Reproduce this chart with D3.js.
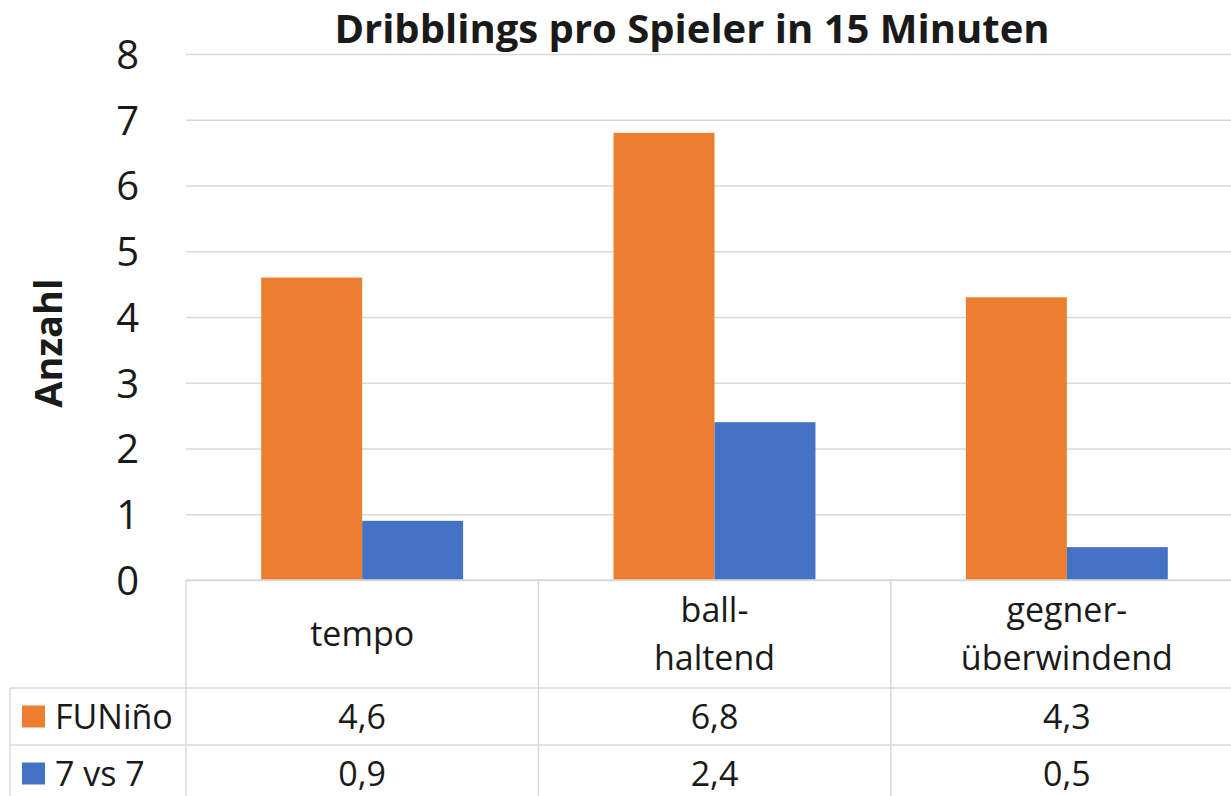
<!DOCTYPE html>
<head>
  <meta charset="utf-8">
  <script src="https://d3js.org/d3.v7.min.js"></script>
  <style>
    body { margin:0; background:#fff; }
    text { font-family: "Open Sans", sans-serif; fill: #1a1a1a; }
    .title { font-weight: bold; font-size: 40px; }
    .ylabel { font-weight: bold; font-size: 38px; }
    .y.axis text { font-size: 40px; }
    .y.axis line { stroke: #d9d9d9; stroke-width: 1.5; }
    .y.axis .domain { display: none; }
    .grid-line { stroke: #d9d9d9; stroke-width: 1.5; }
    .cell { font-size: 34px; }
  </style>
</head>

<body>
  <script>
    // data
    var categories = [["tempo"], ["ball-", "haltend"], ["gegner-", "überwindend"]];
    var seriesNames = ["FUNiño", "7 vs 7"];
    var funino = [4.6, 6.8, 4.3];
    var siebenVsSieben = [0.9, 2.4, 0.5];
    var yTicks = [0, 1, 2, 3, 4, 5, 6, 7, 8];
    var colours = ["#ed7d31", "#4472c4"];

    var W = 1231, H = 796;
    var plot = {left: 186, right: 1243, top: 54, bottom: 580};
    var tableLeft = 10;
    var rowY = [580, 688, 745, 802];   // header, FUNiño, 7 vs 7, bottom

    var svg = d3.select("body").append("svg")
        .attr("width", W)
        .attr("height", H);

    var catKeys = categories.map(function(c) { return c.join(""); });
    var values = [funino, siebenVsSieben];

    var x0 = d3.scaleBand()
        .domain(catKeys)
        .range([plot.left, plot.right])
        .padding(0);

    var x1 = d3.scaleBand()
        .domain(seriesNames)
        .range([0, x0.bandwidth()])
        .paddingInner(0)
        .paddingOuter(0.745);

    var y = d3.scaleLinear()
        .domain([0, 8])
        .range([plot.bottom, plot.top]);

    var fmt = d3.formatLocale({decimal: ",", thousands: ".", grouping: [3], currency: ["", "€"]}).format(".1f");

    // gridlines + tick labels
    var yAxis = d3.axisLeft(y)
        .tickValues(yTicks)
        .tickSize(-(W - plot.left))
        .tickPadding(47)
        .tickFormat(d3.format("d"));

    svg.append("g")
        .attr("class", "y axis")
        .attr("transform", "translate(" + plot.left + ",0)")
        .call(yAxis)
        .selectAll("text")
          .attr("dy", "0.36em");

    // bars
    var groups = svg.append("g").selectAll("g")
        .data(catKeys)
      .enter().append("g")
        .attr("transform", function(d) { return "translate(" + x0(d) + ",0)"; });

    groups.selectAll("rect")
        .data(function(d, i) {
          return seriesNames.map(function(s, j) { return {series: s, value: values[j][i], idx: j}; });
        })
      .enter().append("rect")
        .attr("x", function(d) { return x1(d.series); })
        .attr("width", x1.bandwidth())
        .attr("y", function(d) { return y(d.value); })
        .attr("height", function(d) { return y(0) - y(d.value); })
        .attr("fill", function(d) { return colours[d.idx]; });

    // data table
    var table = svg.append("g").attr("class", "table");

    table.append("line").attr("class", "grid-line")
        .attr("x1", plot.left).attr("x2", W)
        .attr("y1", rowY[0]).attr("y2", rowY[0]);
    [rowY[1], rowY[2], rowY[3]].forEach(function(ry) {
      table.append("line").attr("class", "grid-line")
          .attr("x1", tableLeft).attr("x2", W)
          .attr("y1", ry).attr("y2", ry);
    });
    table.append("line").attr("class", "grid-line")
        .attr("x1", tableLeft).attr("x2", tableLeft)
        .attr("y1", rowY[1]).attr("y2", rowY[3]);
    catKeys.forEach(function(k) {
      table.append("line").attr("class", "grid-line")
          .attr("x1", x0(k)).attr("x2", x0(k))
          .attr("y1", rowY[0]).attr("y2", rowY[3]);
    });

    // category labels
    categories.forEach(function(c, i) {
      var cx = x0(catKeys[i]) + x0.bandwidth() / 2;
      var mid = (rowY[0] + rowY[1]) / 2;
      var lh = 48;
      var t = table.append("text")
          .attr("class", "cell")
          .attr("text-anchor", "middle");
      c.forEach(function(line, j) {
        t.append("tspan")
          .attr("x", cx)
          .attr("y", mid + (j - (c.length - 1) / 2) * lh)
          .attr("dy", "0.35em")
          .text(line);
      });
    });

    // series rows
    seriesNames.forEach(function(s, j) {
      var cy = (rowY[j + 1] + rowY[j + 2]) / 2;
      table.append("rect")
          .attr("x", 22)
          .attr("y", cy - 11)
          .attr("width", 23)
          .attr("height", 22)
          .attr("fill", colours[j]);
      table.append("text")
          .attr("class", "cell")
          .attr("x", 55)
          .attr("y", cy)
          .attr("dy", "0.36em")
          .text(s);
      values[j].forEach(function(v, i) {
        table.append("text")
            .attr("class", "cell")
            .attr("text-anchor", "middle")
            .attr("x", x0(catKeys[i]) + x0.bandwidth() / 2)
            .attr("y", cy)
            .attr("dy", "0.36em")
            .text(fmt(v));
      });
    });

    svg.append("text")
        .attr("class", "title")
        .attr("x", 692)
        .attr("y", 29)
        .attr("dy", "0.35em")
        .attr("text-anchor", "middle")
        .text("Dribblings pro Spieler in 15 Minuten");

    svg.append("text")
        .attr("class", "ylabel")
        .attr("transform", "translate(49,343) rotate(-90)")
        .attr("dy", "0.35em")
        .attr("text-anchor", "middle")
        .text("Anzahl");
  </script>
</body>
